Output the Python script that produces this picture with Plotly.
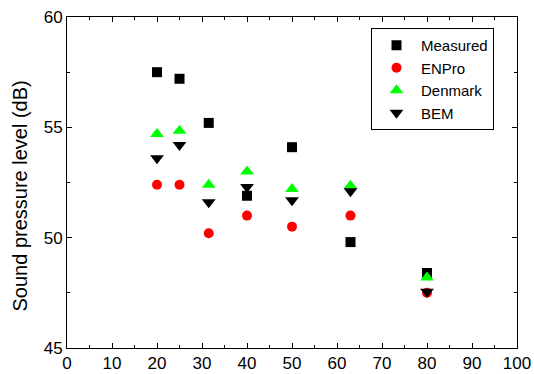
import plotly.graph_objects as go

freq = [20, 25, 31.5, 40, 50, 63, 80]
measured = [57.5, 57.2, 55.2, 51.9, 54.1, 49.8, 48.4]
enpro = [52.4, 52.4, 50.2, 51.0, 50.5, 51.0, 47.5]
denmark = [54.7, 54.85, 52.4, 53.0, 52.2, 52.35, 48.2]
bem = [53.6, 54.2, 51.6, 52.3, 51.7, 52.1, 47.55]

x_ticks = [0, 10, 20, 30, 40, 50, 60, 70, 80, 90, 100]
y_ticks = [45, 50, 55, 60]

FONT = "Liberation Sans, Arial"

fig = go.Figure()
series = [
    ("Measured", measured, "square", "black", 10),
    ("ENPro", enpro, "circle", "red", 10),
    ("Denmark", denmark, "triangle-up", "#00ff00", 12),
    ("BEM", bem, "triangle-down", "black", 12),
]
for name, vals, sym, col, sz in series:
    fig.add_trace(go.Scatter(x=freq, y=vals, mode="markers", name=name,
                             marker=dict(symbol=sym, color=col, size=sz, line=dict(width=0))))

axis_common = dict(showgrid=False, zeroline=False, showline=True, linecolor="black", linewidth=1,
                   mirror="allticks", ticks="inside", ticklen=5, tickcolor="black",
                   automargin=False,
                   tickfont=dict(family=FONT, size=17, color="black"))

fig.update_xaxes(range=[0, 100], tickvals=x_ticks, ticklabelstandoff=0,
                 minor=dict(ticks="inside", ticklen=3, dtick=5, tick0=0, tickcolor="black"),
                 **axis_common)
fig.update_yaxes(range=[45, 60], tickvals=y_ticks,
                 minor=dict(ticks="inside", ticklen=3, dtick=2.5, tick0=45, tickcolor="black"),
                 **axis_common)

fig.add_annotation(text="Sound pressure level (dB)", textangle=-90,
                   xref="paper", yref="paper", x=(19 - 67) / 450, y=(348 - 196.5) / 331,
                   xanchor="center", yanchor="middle", showarrow=False,
                   font=dict(family=FONT, size=20, color="black"))

fig.update_layout(
    width=534, height=374,
    margin=dict(l=67, r=17, t=17, b=26),
    paper_bgcolor="white", plot_bgcolor="white",
    legend=dict(x=(371 - 67) / 450, y=1 - (28 - 17) / 331, xanchor="left", yanchor="top",
                bordercolor="black", borderwidth=1, bgcolor="white",
                font=dict(family=FONT, size=15, color="black"),
                itemwidth=39, tracegroupgap=0),
)

fig.write_html("out.html")
